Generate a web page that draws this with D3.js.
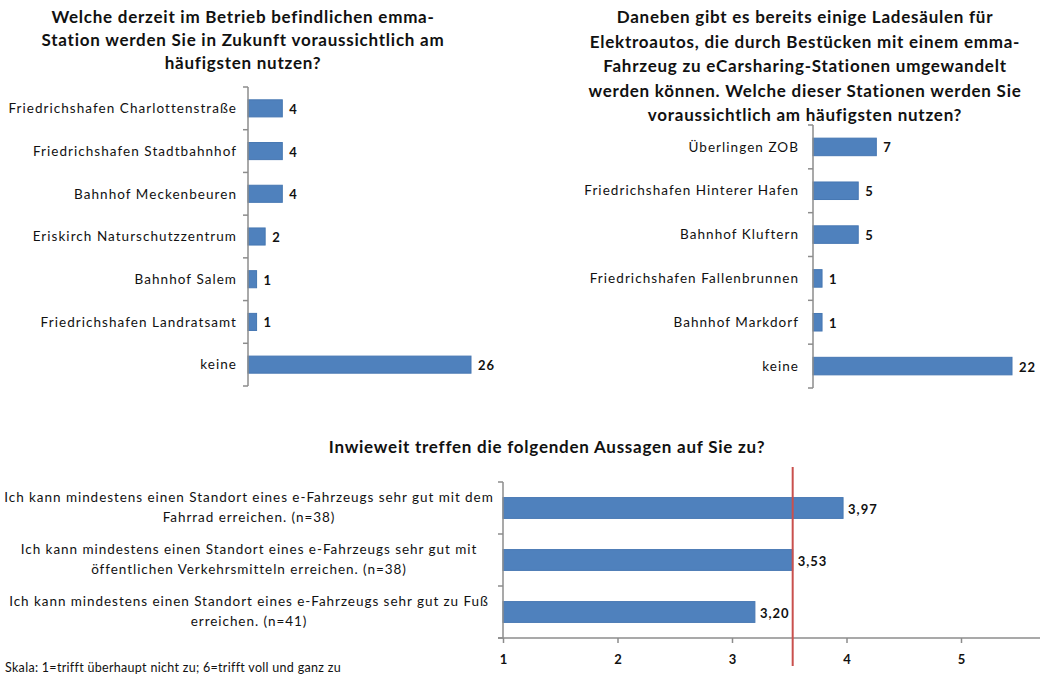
<!DOCTYPE html>
<html>
<head>
<meta charset="utf-8">
<script src="https://cdn.jsdelivr.net/npm/d3@7"></script>
<style>
  html, body { margin: 0; padding: 0; background: #fff; }
  svg { display: block; font-family: Lato, "Open Sans", sans-serif; }
</style>
</head>
<body>
<svg id="chart" width="1040" height="681"></svg>
<script>
// ---------- data ----------
const q1Title = [
  "Welche derzeit im Betrieb befindlichen emma-",
  "Station werden Sie in Zukunft voraussichtlich am",
  "häufigsten nutzen?"
];
const q1Categories = [
  "Friedrichshafen Charlottenstraße",
  "Friedrichshafen Stadtbahnhof",
  "Bahnhof Meckenbeuren",
  "Eriskirch Naturschutzzentrum",
  "Bahnhof Salem",
  "Friedrichshafen Landratsamt",
  "keine"
];
const q1Values = [4, 4, 4, 2, 1, 1, 26];

const q2Title = [
  "Daneben gibt es bereits einige Ladesäulen für",
  "Elektroautos, die durch Bestücken mit einem emma-",
  "Fahrzeug zu eCarsharing-Stationen umgewandelt",
  "werden können. Welche dieser Stationen werden Sie",
  "voraussichtlich am häufigsten nutzen?"
];
const q2Categories = [
  "Überlingen ZOB",
  "Friedrichshafen Hinterer Hafen",
  "Bahnhof Kluftern",
  "Friedrichshafen Fallenbrunnen",
  "Bahnhof Markdorf",
  "keine"
];
const q2Values = [7, 5, 5, 1, 1, 22];

const q3Title = ["Inwieweit treffen die folgenden Aussagen auf Sie zu?"];
const q3Statements = [
  ["Ich kann mindestens einen Standort eines e-Fahrzeugs sehr gut mit dem", "Fahrrad erreichen. (n=38)"],
  ["Ich kann mindestens einen Standort eines e-Fahrzeugs sehr gut mit", "öffentlichen Verkehrsmitteln erreichen. (n=38)"],
  ["Ich kann mindestens einen Standort eines e-Fahrzeugs sehr gut zu Fuß", "erreichen. (n=41)"]
];
const q3Values = [3.97, 3.53, 3.20];
const q3Domain = [1, 6];
const q3Ticks = [1, 2, 3, 4, 5];
const q3Reference = 3.53;
const q3Note = "Skala: 1=trifft überhaupt nicht zu; 6=trifft voll und ganz zu";

// ---------- styles ----------
const BAR = "#4F81BD", BAR_STROKE = "#4677B2", AXIS = "#8C8C8C", RED = "#C9504D", TXT = "#111";
const de = d3.formatLocale({decimal: ",", thousands: ".", grouping: [3], currency: ["", "€"]});
const fmt2 = de.format(".2f");
const LBL = 13.5, LBL_LS = 1.05;

const svg = d3.select("#chart");

function title(lines, cx, y0, lh) {
  const t = svg.append("text").attr("text-anchor", "middle").attr("font-weight", "bold")
    .attr("font-size", 17).attr("letter-spacing", 0.75).attr("fill", TXT);
  lines.forEach((l, i) => t.append("tspan").attr("x", cx).attr("y", y0 + i * lh).text(l));
}

function catBar(cfg) {
  const {cats, vals, x0, x1, max, y0, y1, labelGap} = cfg;
  const x = d3.scaleLinear().domain([0, max]).range([x0, x1]);
  const y = d3.scaleBand().domain(cats).range([y0, y1]).paddingInner(0.6).paddingOuter(0.3);
  const g = svg.append("g");
  g.selectAll("rect").data(cats).join("rect")
    .attr("x", x(0)).attr("y", d => y(d))
    .attr("width", (d, i) => x(vals[i]) - x(0)).attr("height", y.bandwidth())
    .attr("fill", BAR).attr("stroke", BAR_STROKE).attr("stroke-width", 1);
  const step = (y1 - y0) / cats.length;
  const bounds = d3.range(cats.length + 1).map(i => y0 + i * step);
  g.append("line").attr("x1", x0).attr("x2", x0).attr("y1", y0).attr("y2", y1)
    .attr("stroke", AXIS).attr("stroke-width", 1.5);
  g.selectAll("line.tk").data(bounds).join("line").attr("class", "tk")
    .attr("x1", x0 - 5).attr("x2", x0).attr("y1", d => d).attr("y2", d => d)
    .attr("stroke", AXIS).attr("stroke-width", 1.5);
  g.selectAll("text.cat").data(cats).join("text").attr("class", "cat")
    .attr("x", x0 - labelGap).attr("y", d => y(d) + y.bandwidth() / 2)
    .attr("dy", "0.35em").attr("text-anchor", "end")
    .attr("font-size", LBL).attr("letter-spacing", LBL_LS).attr("fill", TXT).text(d => d);
  g.selectAll("text.val").data(cats).join("text").attr("class", "val")
    .attr("x", (d, i) => x(vals[i]) + 7).attr("y", d => y(d) + y.bandwidth() / 2 + 1)
    .attr("dy", "0.35em").attr("font-weight", "bold").attr("letter-spacing", 1)
    .attr("font-size", 13).attr("fill", TXT).text((d, i) => vals[i]);
}

// ---------- chart 1 ----------
title(q1Title, 243, 23, 23);
catBar({cats: q1Categories, vals: q1Values, x0: 248, x1: 471, max: 26, y0: 87, y1: 386, labelGap: 11});

// ---------- chart 2 ----------
title(q2Title, 805, 23, 24.5);
catBar({cats: q2Categories, vals: q2Values, x0: 813, x1: 1012, max: 22, y0: 125, y1: 388, labelGap: 14});

// ---------- chart 3 ----------
title(q3Title, 547, 453, 20);
(function () {
  const x = d3.scaleLinear().domain(q3Domain).range([503, 1075.5]);
  const y0 = 482, y1 = 638;
  const idx = d3.range(q3Values.length);
  const y = d3.scaleBand().domain(idx).range([y0, y1]).paddingInner(0.6).paddingOuter(0.3);
  const g = svg.append("g");
  g.selectAll("rect").data(idx).join("rect")
    .attr("x", x(1)).attr("y", i => y(i))
    .attr("width", i => x(q3Values[i]) - x(1)).attr("height", y.bandwidth())
    .attr("fill", BAR).attr("stroke", BAR_STROKE);
  const step = (y1 - y0) / idx.length;
  const bounds = d3.range(idx.length + 1).map(i => y0 + i * step);
  g.append("line").attr("x1", x(1)).attr("x2", x(1)).attr("y1", y0).attr("y2", y1)
    .attr("stroke", AXIS).attr("stroke-width", 1.5);
  g.selectAll("line.tk").data(bounds).join("line").attr("class", "tk")
    .attr("x1", x(1) - 5).attr("x2", x(1)).attr("y1", d => d).attr("y2", d => d)
    .attr("stroke", AXIS).attr("stroke-width", 1.5);
  const xAxis = d3.axisBottom(x).tickValues(q3Ticks).tickSize(5).tickPadding(12)
    .tickFormat(d3.format("d"));
  const ax = g.append("g").attr("transform", `translate(0,${y1})`).call(xAxis);
  ax.select(".domain").attr("stroke", AXIS).attr("stroke-width", 1.5).attr("d", `M${x(1) - 5},0H1040`);
  ax.selectAll(".tick line").attr("stroke", AXIS).attr("stroke-width", 1.5);
  ax.selectAll(".tick text").attr("font-family", "Lato").attr("font-weight", "bold")
    .attr("font-size", 13).attr("fill", TXT);
  idx.forEach(i => {
    const cy = y(i) + y.bandwidth() / 2;
    const t = g.append("text").attr("text-anchor", "middle").attr("font-size", LBL)
      .attr("letter-spacing", 0.95).attr("fill", TXT);
    q3Statements[i].forEach((l, k) => t.append("tspan").attr("x", 249).attr("y", cy - 6 + k * 20).text(l));
  });
  g.selectAll("text.val").data(idx).join("text").attr("class", "val")
    .attr("x", i => x(q3Values[i]) + 5).attr("y", i => y(i) + y.bandwidth() / 2 + 1)
    .attr("dy", "0.35em").attr("font-weight", "bold").attr("font-size", 13).attr("letter-spacing", 1)
    .attr("fill", TXT).text(i => fmt2(q3Values[i]));
  g.append("line").attr("x1", x(q3Reference)).attr("x2", x(q3Reference))
    .attr("y1", 467).attr("y2", 666).attr("stroke", RED).attr("stroke-width", 2);
  svg.append("text").attr("x", 5).attr("y", 672).attr("font-size", 12.5).attr("letter-spacing", 0.3)
    .attr("fill", TXT).text(q3Note);
})();
</script>
</body>
</html>
